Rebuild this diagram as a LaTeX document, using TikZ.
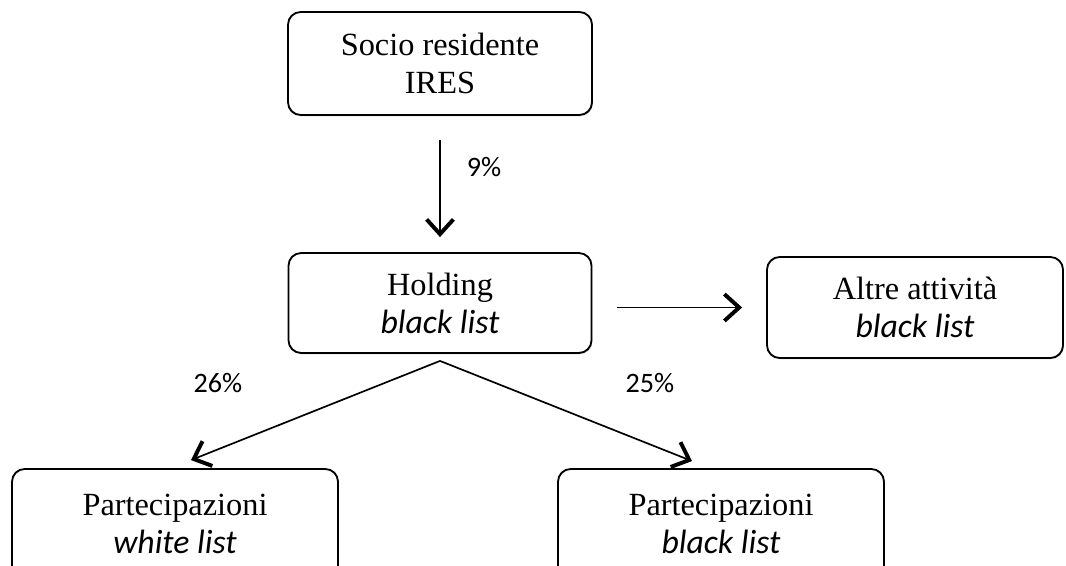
\documentclass[tikz,border=0pt]{standalone}
\usepackage{fontspec}
\setmainfont{Liberation Serif}
\newfontfamily\calfont{Carlito}
\usetikzlibrary{
  arrows.meta,
  calc,
  shadows,
}
\newcommand{\listtag}[1]{{\calfont\itshape\fontsize{24}{27}\selectfont #1}}

\begin{document}
\begin{tikzpicture}[
  >={Straight Barb[length=10.5pt,width=19pt,line width=2.8pt]},
  box/.style={draw, line width=1.3pt, rounded corners=9pt, fill=white,
    align=center, inner sep=0pt, font=\fontsize{23}{27}\selectfont,
    drop shadow={shadow xshift=0.6pt, shadow yshift=-1pt, opacity=0.3}},
  link/.style={->, line width=1.2pt},
  pct/.style={font=\calfont\fontsize{20}{24}\selectfont},
]
  \useasboundingbox (0,0) rectangle (26.65,-14.15);

  % Boxes
  \node[box, minimum width=7.6cm, minimum height=2.575cm] (socio)
    at (11.0,-1.5875) {Socio residente\\IRES};
  \node[box, minimum width=7.575cm, minimum height=2.5cm] (holding)
    at (11.0,-7.575) {Holding\\\listtag{black list}};
  \node[box, minimum width=7.4cm, minimum height=2.525cm] (altre)
    at (22.875,-7.6875) {Altre attività\\\listtag{black list}};
  \node[box, minimum width=8.15cm, minimum height=2.75cm] (partW)
    at (4.375,-13.1) {Partecipazioni\\\listtag{white list}};
  \node[box, minimum width=8.15cm, minimum height=2.75cm] (partB)
    at (18.025,-13.1) {Partecipazioni\\\listtag{black list}};

  % Arrows
  \draw[link, shorten <=0.6cm, shorten >=0.375cm] (socio.south) -- (holding.north);
  \draw[link, shorten <=0.625cm, shorten >=0.6cm] (holding.east |- altre.west) -- (altre.west);

  \coordinate (fork) at ($(holding.south)+(0,-0.175)$);
  \coordinate (tipW) at ($(partW.north)+(0.4,0.2)$);
  \coordinate (tipB) at ($(partB.north)+(-0.725,0.175)$);
  \draw[link] (fork) -- (tipW);
  \draw[link] (fork) -- (tipB);

  % Shares
  \node[pct] (pNine) at (12.1,-4.175) {9\%};
  \node[pct] (pWhite) at (5.45,-9.575) {26\%};
  \node[pct] (pBlack) at (16.25,-9.575) {25\%};

\end{tikzpicture}
\end{document}
